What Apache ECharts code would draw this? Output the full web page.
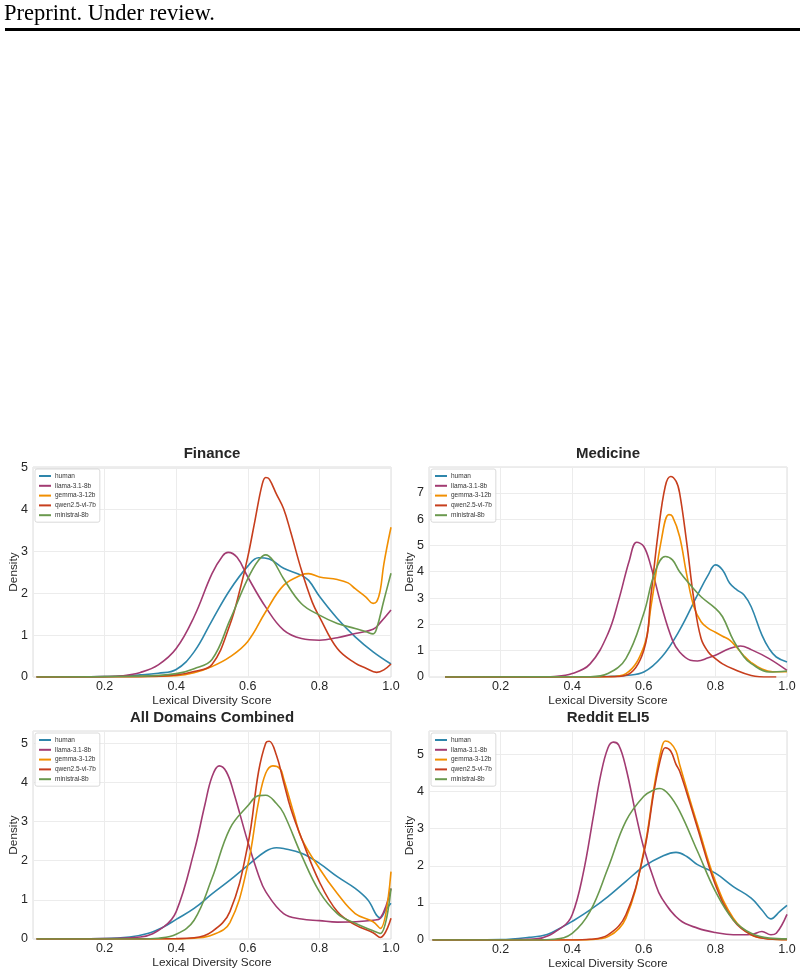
<!DOCTYPE html>
<html>
<head>
<meta charset="utf-8">
<script src="https://cdn.jsdelivr.net/npm/echarts@6/dist/echarts.min.js"></script>
<style>
  html, body { margin: 0; padding: 0; background: #fff; }
  #main { width: 804px; height: 975px; }
</style>
</head>
<body>
<div id="main"></div>
<script>
// series names and the panels they appear in
var modelNames = ['human', 'llama-3.1-8b', 'gemma-3-12b', 'qwen2.5-vl-7b', 'ministral-8b'];
var panelTitles = ['Finance', 'Medicine', 'All Domains Combined', 'Reddit ELI5'];
var xTickValues = [0.2, 0.4, 0.6, 0.8, 1.0];

// KDE curves, [score, density]
var financeHuman = [[0.01,0],[0.2,0.01],[0.3,0.05],[0.35,0.09],[0.4,0.18],[0.45,0.6],[0.5,1.35],[0.55,2.08],[0.6,2.65],[0.63,2.85],[0.66,2.82],[0.7,2.6],[0.75,2.43],[0.77,2.31],[0.8,1.93],[0.85,1.4],[0.9,0.96],[0.95,0.6],[1.0,0.31]];
var financeLlama = [[0.01,0],[0.2,0.01],[0.25,0.03],[0.3,0.11],[0.35,0.29],[0.4,0.68],[0.45,1.44],[0.5,2.47],[0.53,2.9],[0.545,2.98],[0.57,2.86],[0.6,2.39],[0.65,1.67],[0.7,1.12],[0.75,0.92],[0.8,0.88],[0.85,0.94],[0.9,1.04],[0.95,1.14],[0.97,1.3],[1.0,1.6]];
var financeGemma = [[0.01,0],[0.3,0.01],[0.4,0.03],[0.45,0.1],[0.5,0.25],[0.55,0.48],[0.6,0.85],[0.65,1.56],[0.7,2.19],[0.75,2.44],[0.77,2.47],[0.8,2.39],[0.85,2.33],[0.88,2.25],[0.9,2.11],[0.93,1.91],[0.95,1.76],[0.96,1.8],[0.97,2.07],[0.98,2.7],[1.0,3.58]];
var financeQwen = [[0.01,0],[0.3,0.01],[0.4,0.05],[0.45,0.13],[0.5,0.3],[0.55,1.25],[0.58,2.15],[0.6,2.87],[0.62,3.74],[0.64,4.6],[0.65,4.77],[0.66,4.73],[0.68,4.37],[0.7,4.02],[0.72,3.46],[0.75,2.55],[0.78,1.79],[0.8,1.44],[0.85,0.68],[0.9,0.33],[0.93,0.21],[0.96,0.11],[0.98,0.17],[1.0,0.31]];
var financeMinistral = [[0.01,0],[0.3,0.02],[0.4,0.08],[0.45,0.2],[0.5,0.42],[0.55,1.36],[0.6,2.35],[0.63,2.79],[0.65,2.92],[0.67,2.79],[0.7,2.35],[0.75,1.75],[0.8,1.48],[0.85,1.28],[0.9,1.16],[0.93,1.08],[0.95,1.03],[0.96,1.16],[0.98,1.83],[1.0,2.48]];

var medicineHuman = [[0.045,0],[0.4,0],[0.5,0.02],[0.55,0.06],[0.6,0.19],[0.65,0.76],[0.7,1.78],[0.75,3.12],[0.78,3.88],[0.8,4.26],[0.82,4.07],[0.84,3.56],[0.86,3.31],[0.88,3.12],[0.9,2.67],[0.93,1.59],[0.95,1.08],[0.97,0.76],[1.0,0.57]];
var medicineLlama = [[0.045,0],[0.3,0],[0.35,0.02],[0.4,0.13],[0.45,0.5],[0.5,1.65],[0.53,2.93],[0.56,4.45],[0.58,5.12],[0.6,4.96],[0.62,4.2],[0.65,2.67],[0.68,1.4],[0.7,0.95],[0.73,0.64],[0.75,0.61],[0.78,0.73],[0.8,0.83],[0.84,1.08],[0.87,1.18],[0.9,1.04],[0.95,0.7],[1.0,0.25]];
var medicineGemma = [[0.045,0],[0.45,0],[0.5,0.01],[0.55,0.13],[0.6,1.15],[0.62,2.67],[0.65,5.28],[0.67,6.17],[0.68,6.1],[0.7,5.34],[0.72,3.88],[0.74,2.67],[0.76,2.1],[0.78,1.85],[0.8,1.7],[0.82,1.55],[0.84,1.4],[0.86,1.12],[0.88,0.8],[0.9,0.55],[0.93,0.3],[0.96,0.2],[1.0,0.2]];
var medicineQwen = [[0.045,0],[0.5,0.01],[0.55,0.07],[0.6,1.02],[0.62,3.1],[0.64,5.47],[0.66,7.25],[0.675,7.62],[0.69,7.44],[0.7,7.0],[0.72,5.09],[0.74,2.93],[0.76,1.46],[0.78,0.95],[0.8,0.7],[0.82,0.5],[0.85,0.3],[0.9,0.06],[0.95,0.0],[0.97,0.0]];
var medicineMinistral = [[0.045,0],[0.45,0.01],[0.5,0.13],[0.55,0.7],[0.6,2.42],[0.63,3.94],[0.66,4.58],[0.68,4.45],[0.7,4.0],[0.73,3.5],[0.76,3.05],[0.8,2.61],[0.82,2.29],[0.85,1.4],[0.88,0.76],[0.9,0.51],[0.95,0.19],[1.0,0.23]];

var allHuman = [[0.01,0],[0.2,0.01],[0.27,0.05],[0.32,0.14],[0.365,0.31],[0.4,0.5],[0.45,0.78],[0.5,1.15],[0.55,1.5],[0.6,1.88],[0.65,2.24],[0.68,2.33],[0.7,2.31],[0.75,2.19],[0.8,1.93],[0.85,1.59],[0.9,1.29],[0.935,1.0],[0.97,0.54],[0.985,0.74],[1.0,0.91]];
var allLlama = [[0.01,0],[0.2,0.01],[0.3,0.05],[0.365,0.31],[0.4,0.7],[0.45,2.23],[0.48,3.42],[0.5,4.14],[0.52,4.42],[0.54,4.27],[0.56,3.76],[0.6,2.48],[0.63,1.63],[0.65,1.21],[0.7,0.65],[0.75,0.51],[0.8,0.47],[0.85,0.43],[0.9,0.44],[0.95,0.48],[0.97,0.53],[1.0,1.29]];
var allGemma = [[0.01,0],[0.4,0.0],[0.45,0.02],[0.5,0.1],[0.55,0.42],[0.6,1.89],[0.63,3.5],[0.65,4.23],[0.67,4.42],[0.69,4.35],[0.7,4.1],[0.73,3.16],[0.75,2.57],[0.8,1.8],[0.85,1.16],[0.9,0.65],[0.95,0.44],[0.97,0.27],[1.0,1.72]];
var allQwen = [[0.01,0],[0.4,0.01],[0.45,0.03],[0.5,0.19],[0.55,0.7],[0.6,2.4],[0.63,4.27],[0.65,5.0],[0.66,5.05],[0.68,4.69],[0.7,4.01],[0.72,3.33],[0.75,2.57],[0.8,1.46],[0.85,0.7],[0.9,0.36],[0.95,0.16],[0.97,0.04],[1.0,0.53]];
var allMinistral = [[0.01,0],[0.3,0.0],[0.35,0.02],[0.4,0.12],[0.45,0.48],[0.5,1.55],[0.55,2.82],[0.6,3.4],[0.63,3.66],[0.65,3.67],[0.68,3.46],[0.7,3.21],[0.75,2.14],[0.8,1.21],[0.85,0.65],[0.9,0.4],[0.95,0.21],[0.97,0.14],[1.0,1.29]];

var redditHuman = [[0.01,0],[0.2,0.01],[0.28,0.07],[0.33,0.15],[0.374,0.36],[0.4,0.5],[0.45,0.81],[0.5,1.17],[0.55,1.58],[0.6,1.98],[0.65,2.25],[0.69,2.36],[0.72,2.25],[0.75,2.03],[0.8,1.8],[0.85,1.44],[0.9,1.13],[0.93,0.81],[0.955,0.57],[0.98,0.77],[1.0,0.93]];
var redditLlama = [[0.01,0],[0.2,0.0],[0.3,0.03],[0.374,0.36],[0.4,0.68],[0.43,1.76],[0.46,3.38],[0.48,4.46],[0.5,5.18],[0.515,5.33],[0.53,5.25],[0.55,4.64],[0.58,3.29],[0.6,2.48],[0.63,1.58],[0.65,1.13],[0.7,0.54],[0.75,0.32],[0.8,0.2],[0.85,0.14],[0.9,0.15],[0.93,0.23],[0.955,0.14],[0.97,0.18],[1.0,0.69]];
var redditGemma = [[0.01,0],[0.4,0.0],[0.45,0.01],[0.5,0.09],[0.55,0.59],[0.6,2.39],[0.63,4.19],[0.65,5.18],[0.66,5.36],[0.675,5.3],[0.69,5.09],[0.7,4.73],[0.73,3.74],[0.75,3.11],[0.8,1.58],[0.85,0.59],[0.9,0.14],[0.95,0.03],[1.0,0.01]];
var redditQwen = [[0.01,0],[0.4,0.0],[0.45,0.02],[0.5,0.14],[0.55,0.68],[0.6,2.34],[0.63,4.1],[0.65,5.0],[0.66,5.18],[0.675,5.09],[0.69,4.73],[0.7,4.55],[0.73,3.65],[0.75,3.02],[0.8,1.49],[0.85,0.54],[0.9,0.14],[0.95,0.03],[1.0,0.01]];
var redditMinistral = [[0.01,0],[0.3,0.0],[0.35,0.02],[0.4,0.18],[0.45,0.77],[0.5,1.94],[0.55,3.2],[0.6,3.87],[0.63,4.05],[0.645,4.08],[0.67,3.92],[0.7,3.47],[0.75,2.39],[0.8,1.31],[0.85,0.54],[0.9,0.18],[0.95,0.05],[1.0,0.03]];

var panelData = [
    [financeHuman, financeLlama, financeGemma, financeQwen, financeMinistral],
    [medicineHuman, medicineLlama, medicineGemma, medicineQwen, medicineMinistral],
    [allHuman, allLlama, allGemma, allQwen, allMinistral],
    [redditHuman, redditLlama, redditGemma, redditQwen, redditMinistral]
];

// layout / style
var colors = ['#2E86AB', '#A23B72', '#F18F01', '#C73E1D', '#6A994E'];
var yMax = [5.02, 7.98, 5.31, 5.63];
var boxes = [
    {left: 33, top: 467, width: 358, height: 210},
    {left: 429, top: 467, width: 358, height: 210},
    {left: 33, top: 731, width: 358, height: 208},
    {left: 429, top: 731, width: 358, height: 209}
];
var FONT = '"Liberation Sans", Arial, sans-serif';
var INK = '#262626';

var chart = echarts.init(document.getElementById('main'), null, {renderer: 'canvas'});

var grids = [], xAxes = [], yAxes = [], titles = [], legends = [], series = [];

for (var i = 0; i < 4; i++) {
    var b = boxes[i];
    grids.push({
        left: b.left, top: b.top, width: b.width, height: b.height,
        show: true, borderColor: '#dcdcdc', borderWidth: 1
    });
    xAxes.push({
        type: 'value', gridIndex: i, min: 0, max: 1, interval: 0.2,
        axisLine: {show: false}, axisTick: {show: false},
        splitLine: {lineStyle: {color: '#ececec', width: 1}},
        axisLabel: {
            fontSize: 12.5, color: INK, fontFamily: FONT, margin: 3,
            formatter: function (v) {
                return xTickValues.some(function (t) { return Math.abs(t - v) < 1e-6; }) ? v.toFixed(1) : '';
            }
        },
        name: 'Lexical Diversity Score', nameLocation: 'middle', nameGap: 18,
        nameTextStyle: {fontSize: 11.8, color: INK, fontFamily: FONT}
    });
    yAxes.push({
        type: 'value', gridIndex: i, min: 0, max: yMax[i], interval: 1,
        axisLine: {show: false}, axisTick: {show: false},
        splitLine: {lineStyle: {color: '#ececec', width: 1}},
        axisLabel: {
            fontSize: 12.5, color: INK, fontFamily: FONT, margin: 5,
            formatter: function (v) { return Math.abs(v - Math.round(v)) < 1e-6 ? String(Math.round(v)) : ''; }
        },
        name: 'Density', nameLocation: 'middle', nameGap: 13, nameRotate: 90,
        nameMoveOverlap: false,
        nameTextStyle: {fontSize: 11.8, color: INK, fontFamily: FONT}
    });
    titles.push({
        text: panelTitles[i], left: b.left + b.width / 2, top: b.top - 21,
        textAlign: 'center', padding: 0,
        textStyle: {fontSize: 15, fontWeight: 'bold', color: INK, fontFamily: FONT}
    });
    legends.push({
        data: modelNames, orient: 'vertical', left: b.left + 2, top: b.top + 2,
        icon: 'rect', itemWidth: 12, itemHeight: 2, itemGap: 1.8,
        selectedMode: false,
        textStyle: {fontSize: 6.5, lineHeight: 8, color: '#333', fontFamily: FONT, padding: [0, 0, 0, -1]},
        padding: [3, 4, 3, 4],
        borderColor: '#d0d0d0', borderWidth: 0.8, borderRadius: 2,
        backgroundColor: 'rgba(255,255,255,0.85)'
    });
    for (var k = 0; k < modelNames.length; k++) {
        series.push({
            type: 'line', name: modelNames[k], xAxisIndex: i, yAxisIndex: i,
            data: panelData[i][k], showSymbol: false, smooth: 0.4,
            lineStyle: {width: 1.6, color: colors[k]},
            itemStyle: {color: colors[k]}
        });
    }
}

chart.setOption({
    animation: false,
    backgroundColor: '#fff',
    title: titles,
    legend: legends,
    grid: grids,
    xAxis: xAxes,
    yAxis: yAxes,
    series: series,
    graphic: [
        {
            type: 'text', x: 4, y: 14,
            style: {text: 'Preprint. Under review.', font: '22.5px "Liberation Serif", serif', fill: '#000', verticalAlign: 'middle'}
        },
        {type: 'rect', shape: {x: 5, y: 28, width: 795, height: 3}, style: {fill: '#000'}}
    ]
});
</script>
</body>
</html>
